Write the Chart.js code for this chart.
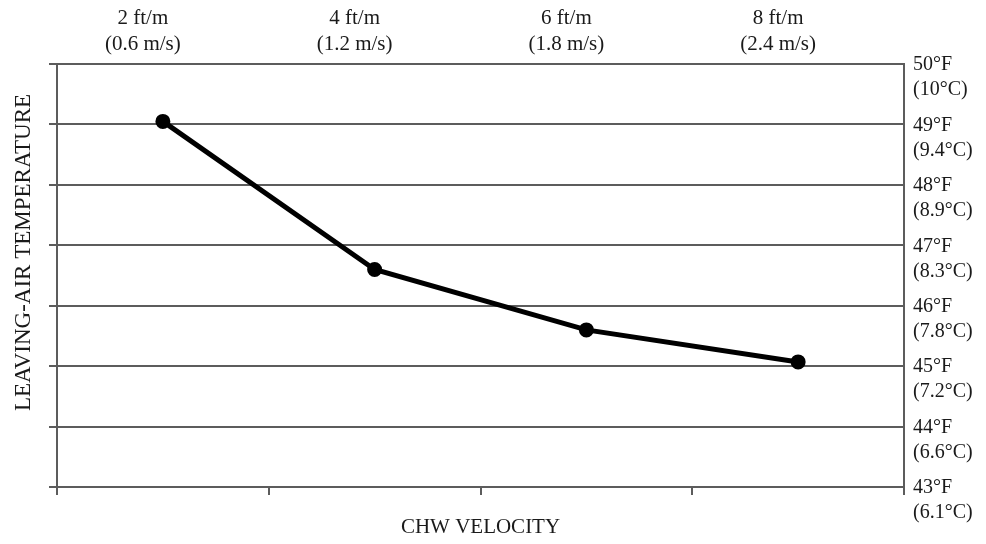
<!DOCTYPE html>
<html>
<head>
<meta charset="utf-8">
<script src="https://cdn.jsdelivr.net/npm/chart.js@4/dist/chart.umd.min.js"></script>
<style>
  html, body { margin: 0; padding: 0; background: #ffffff; }
  #wrap { width: 986px; height: 544px; }
</style>
</head>
<body>
<div id="wrap"><canvas id="c" width="986" height="544"></canvas></div>
<script>
// ---- data ----
const categories = ['2', '4', '6', '8'];
const velocityFtLabels = ['2 ft/m', '4 ft/m', '6 ft/m', '8 ft/m'];
const velocityMsLabels = ['(0.6 m/s)', '(1.2 m/s)', '(1.8 m/s)', '(2.4 m/s)'];
const leavingAirTemp = [49.05, 46.6, 45.6, 45.07];
const tempTicksF = [43, 44, 45, 46, 47, 48, 49, 50];
const tempLabelsF = ['43°F', '44°F', '45°F', '46°F', '47°F', '48°F', '49°F', '50°F'];
const tempLabelsC = ['(6.1°C)', '(6.6°C)', '(7.2°C)', '(7.8°C)', '(8.3°C)', '(8.9°C)', '(9.4°C)', '(10°C)'];

const serif = "'Liberation Serif', 'Times New Roman', serif";
const gridCol = '#5c5c5c';
const textCol = '#1a1a1a';

new Chart(document.getElementById('c'), {
  type: 'line',
  data: {
    labels: categories,
    datasets: [{
      data: leavingAirTemp,
      borderColor: '#000',
      backgroundColor: '#000',
      borderWidth: 5,
      pointRadius: 5,
      pointBackgroundColor: '#000',
      pointBorderColor: '#000',
      tension: 0,
      xAxisID: 'x',
      yAxisID: 'y'
    }]
  },
  options: {
    responsive: false,
    animation: false,
    layout: { padding: 0 },
    plugins: { legend: { display: false }, tooltip: { enabled: false } },
    scales: {
      x: {
        type: 'category',
        position: 'bottom',
        offset: true,
        grid: { display: true, offset: true, drawOnChartArea: false, drawTicks: true, tickLength: 8, color: gridCol, lineWidth: 2 },
        border: { display: true, color: gridCol, width: 2 },
        ticks: { display: false },
        title: { display: true, text: 'CHW VELOCITY', color: textCol, font: { family: serif, size: 21 }, padding: { top: 0, bottom: 4 } },
        afterFit: (s) => { s.height = 57; }
      },
      x2: {
        type: 'category',
        position: 'top',
        offset: true,
        labels: categories,
        grid: { display: false, drawTicks: false },
        border: { display: false },
        ticks: {
          color: textCol,
          font: { family: serif, size: 21, lineHeight: 1.25 },
          padding: 6,
          labelOffset: -20,
          maxRotation: 0,
          autoSkip: false,
          callback: (v, i) => [velocityFtLabels[i], velocityMsLabels[i]]
        },
        afterFit: (s) => { s.height = 64; }
      },
      y: {
        position: 'left',
        min: 43,
        max: 50,
        afterBuildTicks: (s) => { s.ticks = tempTicksF.map(v => ({ value: v })); },
        grid: { display: true, drawOnChartArea: true, drawTicks: true, tickLength: 8, color: gridCol, lineWidth: 2 },
        border: { display: true, color: gridCol, width: 2 },
        ticks: { display: false },
        title: { display: true, text: '\u00a0\u00a0\u00a0\u00a0\u00a0\u00a0\u00a0\u00a0LEAVING-AIR TEMPERATURE', color: textCol, font: { family: serif, size: 23 }, padding: { top: 10, bottom: 0 } },
        afterFit: (s) => { s.width = 57; }
      },
      y2: {
        position: 'right',
        min: 43,
        max: 50,
        afterBuildTicks: (s) => { s.ticks = tempTicksF.map(v => ({ value: v })); },
        grid: { display: false, drawTicks: false },
        border: { display: true, color: gridCol, width: 2 },
        ticks: {
          color: textCol,
          font: { family: serif, size: 20, lineHeight: 1.25 },
          padding: 9,
          labelOffset: 13.5,
          autoSkip: false,
          callback: (v) => { const i = tempTicksF.indexOf(v); return [tempLabelsF[i], tempLabelsC[i]]; }
        },
        afterFit: (s) => { s.width = 82; }
      }
    }
  }
});
</script>
</body>
</html>
